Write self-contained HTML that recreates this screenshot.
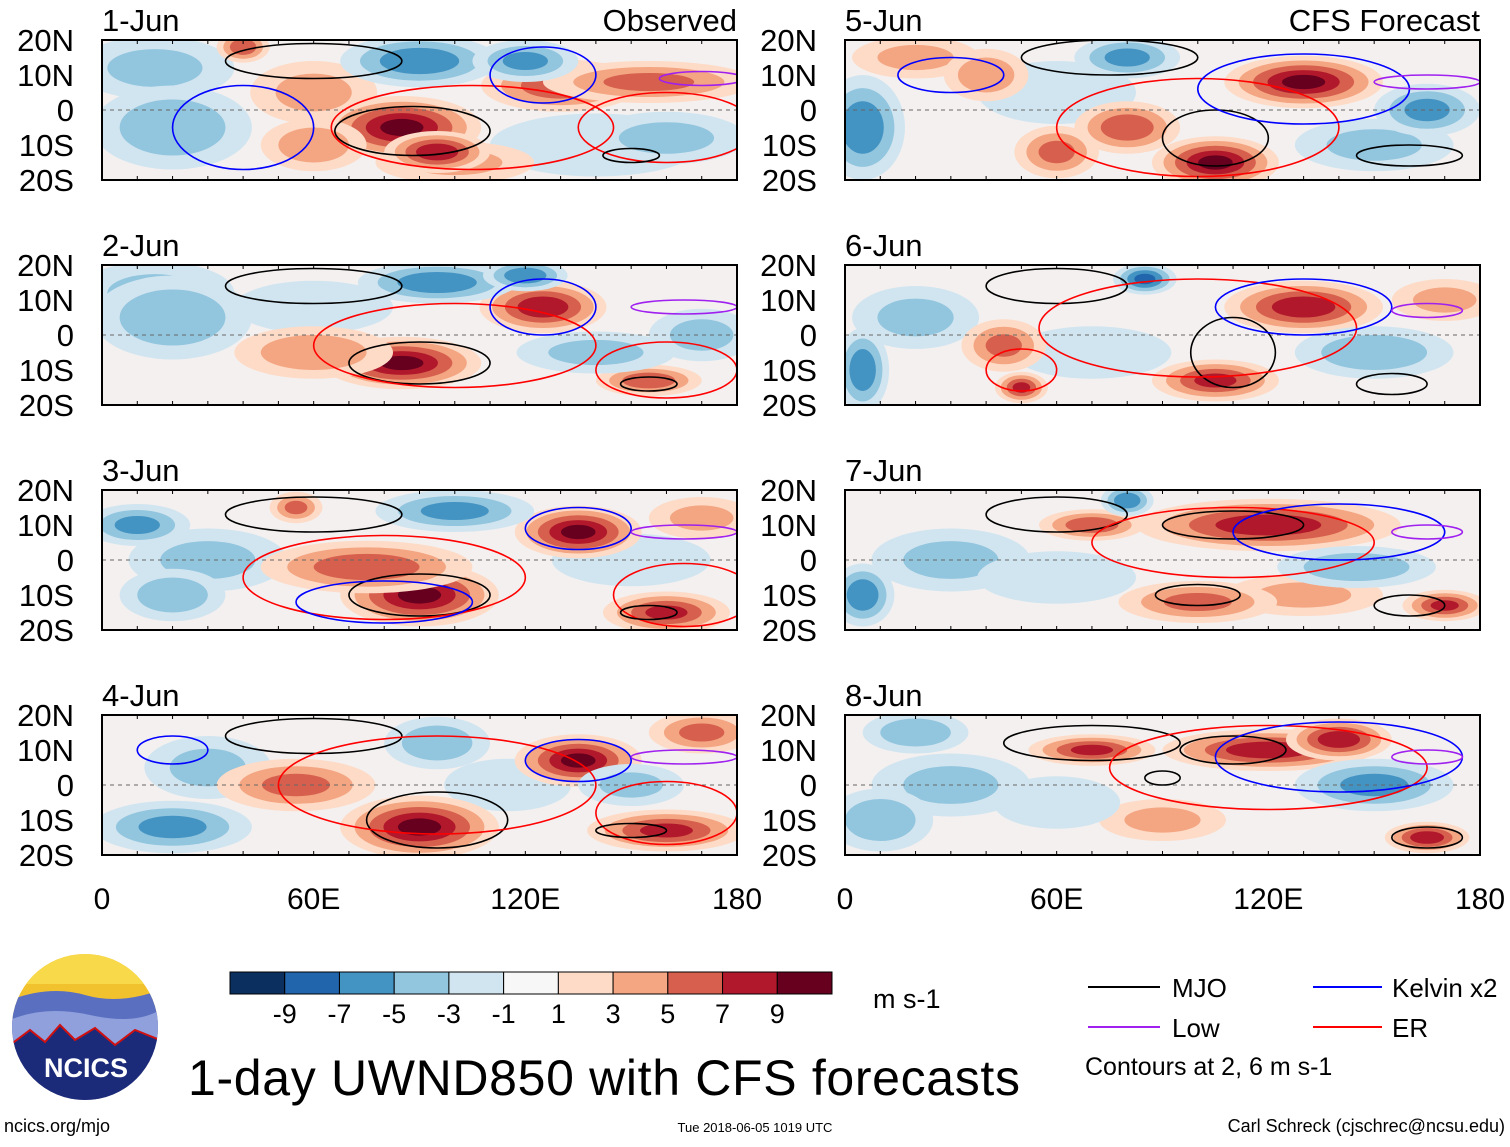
<!DOCTYPE html>
<html><head><meta charset="utf-8"><style>
body{margin:0;background:#fff;}
svg text{font-family:"Liberation Sans",sans-serif;}
</style></head><body>
<svg id="fig" width="1510" height="1142" xmlns="http://www.w3.org/2000/svg">
<g id="panels"></g>
<g id="cbar"></g>
<text x="873" y="1008" font-size="27">m s-1</text>
<g>
<line x1="1088" y1="987" x2="1160" y2="987" stroke="#000" stroke-width="2"/>
<text x="1172" y="997" font-size="26">MJO</text>
<line x1="1313" y1="987" x2="1382" y2="987" stroke="#0000ff" stroke-width="2"/>
<text x="1392" y="997" font-size="26">Kelvin x2</text>
<line x1="1088" y1="1027" x2="1160" y2="1027" stroke="#a020f0" stroke-width="2"/>
<text x="1172" y="1037" font-size="26">Low</text>
<line x1="1313" y1="1027" x2="1382" y2="1027" stroke="#ff0000" stroke-width="2"/>
<text x="1392" y="1037" font-size="26">ER</text>
<text x="1085" y="1075" font-size="25">Contours at 2, 6 m s-1</text>
</g>
<g>
<clipPath id="lc"><circle cx="85" cy="1027" r="73"/></clipPath>
<g clip-path="url(#lc)">
<rect x="10" y="954" width="150" height="150" fill="#f2c12e"/>
<rect x="10" y="954" width="150" height="30" fill="#f7d94a"/>
<path d="M10 1000 Q50 985 85 995 T160 990 L160 1104 L10 1104Z" fill="#5a6fc0"/>
<path d="M10 1020 Q45 1005 90 1015 T160 1010 L160 1104 L10 1104Z" fill="#8fa0dd"/>
<path d="M10 1045 L30 1030 L45 1042 L60 1025 L75 1040 L95 1028 L115 1045 L135 1030 L160 1040 L160 1104 L10 1104Z" fill="#1c2a7a" stroke="#d01010" stroke-width="2"/>
</g>
<text x="86" y="1077" font-size="27" font-weight="bold" fill="#fff" text-anchor="middle">NCICS</text>
</g>
<text x="188" y="1095" font-size="50" textLength="832">1-day UWND850 with CFS forecasts</text>
<text x="4" y="1132" font-size="18">ncics.org/mjo</text>
<text x="755" y="1132" font-size="13" text-anchor="middle">Tue 2018-06-05 1019 UTC</text>
<text x="1505" y="1132" font-size="18" text-anchor="end">Carl Schreck (cjschrec@ncsu.edu)</text>
</svg>
<script>
const NS="http://www.w3.org/2000/svg";
const panelTitles=["1-Jun","2-Jun","3-Jun","4-Jun","5-Jun","6-Jun","7-Jun","8-Jun"];
const latTicks=[20,10,0,-10,-20];
const latLabels=["20N","10N","0","10S","20S"];
const lonTicks=[0,60,120,180];
const lonLabels=["0","60E","120E","180"];
const cbLevels=[-9,-7,-5,-3,-1,1,3,5,7,9];
const cbColors=["#0b2f5e","#2166ac","#4393c3","#92c5de","#d1e5f0","#f7f7f7","#fddbc7","#f4a582","#d6604d","#b2182b","#67001f"];
// anomaly blobs per panel: [lon, lat, value, lonRadius, latRadius]
const blobs=[
[[15,12,-3,15,6],[60,5,3,12,6],[140,-10,-2,20,6],[100,-15,3,15,4],[85,-5,9,15,6],[95,-12,8,10,4],[130,7,6,15,5],[155,8,5,20,4],[90,14,-6,15,5],[120,14,-5,10,4],[20,-5,-4,15,8],[40,18,6,5,3],[60,-10,4,10,5],[160,-8,-3,15,5]],
[[15,12,-3,15,6],[60,8,-2,15,5],[170,0,-3,10,5],[85,-8,9,15,5],[125,8,8,12,5],[155,-13,6,10,3],[95,15,-6,15,4],[120,17,-6,8,3],[20,5,-4,15,8],[60,-5,4,15,5],[140,-5,-3,15,4]],
[[30,0,-3,15,6],[150,0,-2,15,5],[170,12,3,10,4],[90,-10,9,15,6],[75,-2,6,20,5],[135,8,9,12,5],[160,-15,7,12,4],[100,14,-5,15,4],[10,10,-5,10,4],[55,15,5,5,3],[20,-10,-4,10,5]],
[[30,5,-3,12,6],[115,0,-2,12,5],[90,-12,9,15,6],[135,7,9,12,5],[160,-13,7,15,4],[55,0,5,15,5],[20,-12,-5,15,5],[95,12,-4,10,5],[170,15,5,10,4],[150,0,-3,10,4]],
[[20,15,3,12,4],[150,-10,-3,15,5],[60,5,-2,15,6],[130,8,9,15,5],[105,-15,9,12,5],[80,-5,6,10,5],[5,-5,-6,8,10],[80,15,-5,10,4],[165,0,-5,10,5],[40,10,4,8,5],[60,-12,5,8,5]],
[[20,5,-3,12,6],[70,-5,-2,15,5],[170,10,3,10,4],[130,8,8,15,5],[105,-13,7,12,4],[50,-15,7,5,3],[5,-10,-6,5,8],[85,16,-7,6,3],[150,-5,-4,15,5],[45,-3,5,8,5]],
[[30,0,-3,15,6],[60,-5,-2,15,5],[130,-10,3,15,4],[120,10,8,25,5],[70,10,6,10,3],[170,-13,7,8,3],[5,-10,-6,6,6],[80,17,-6,5,3],[145,-2,-4,15,4],[100,-12,5,15,4]],
[[30,0,-3,15,6],[90,-10,3,12,4],[60,-5,-2,12,5],[120,10,8,20,4],[70,10,7,12,3],[140,13,8,10,4],[165,-15,8,8,3],[150,0,-5,15,5],[10,-10,-4,10,6],[20,15,-4,10,4]]
];
// contours per panel: [lon, lat, lonRadius, latRadius, type]  m=MJO k=Kelvin r=ER l=Low
const contours=[
[[60,14,25,5,"m"],[88,-6,22,7,"m"],[105,-5,40,12,"r"],[160,-5,25,10,"r"],[125,10,15,8,"k"],[40,-5,20,12,"k"],[170,9,12,2,"l"],[150,-13,8,2,"m"]],
[[60,14,25,5,"m"],[90,-8,20,6,"m"],[100,-3,40,12,"r"],[160,-10,20,8,"r"],[125,8,15,8,"k"],[165,8,15,2,"l"],[155,-14,8,2,"m"]],
[[60,13,25,5,"m"],[90,-10,20,6,"m"],[80,-5,40,12,"r"],[165,-10,20,9,"r"],[135,9,15,6,"k"],[80,-12,25,6,"k"],[165,8,15,2,"l"],[155,-15,8,2,"m"]],
[[60,14,25,5,"m"],[95,-10,20,8,"m"],[95,0,45,14,"r"],[160,-8,20,9,"r"],[135,7,15,6,"k"],[20,10,10,4,"k"],[165,8,15,2,"l"],[150,-13,10,2,"m"]],
[[75,15,25,5,"m"],[105,-8,15,8,"m"],[100,-5,40,14,"r"],[130,6,30,10,"k"],[165,8,15,2,"l"],[160,-13,15,3,"m"],[30,10,15,5,"k"]],
[[60,14,20,5,"m"],[110,-5,12,10,"m"],[100,2,45,14,"r"],[130,8,25,8,"k"],[165,7,10,2,"l"],[155,-14,10,3,"m"],[50,-10,10,6,"r"]],
[[60,13,20,5,"m"],[110,10,20,4,"m"],[100,-10,12,3,"m"],[110,5,40,10,"r"],[140,8,30,8,"k"],[160,-13,10,3,"m"],[165,8,10,2,"l"]],
[[70,12,25,5,"m"],[110,10,15,4,"m"],[90,2,5,2,"m"],[120,5,45,12,"r"],[140,8,35,10,"k"],[165,-15,10,3,"m"],[165,8,10,2,"l"]]
];
const cmap={m:"#000",k:"#0000ff",r:"#ff0000",l:"#a020f0"};
function colorFor(v){let i=0;while(i<cbLevels.length&&v>cbLevels[i])i++;return cbColors[i];}
function mk(tag,attrs,parent){const e=document.createElementNS(NS,tag);for(const k in attrs)e.setAttribute(k,attrs[k]);parent.appendChild(e);return e;}
const PW=635,PH=140,GROW=1.5;
const panelsG=document.getElementById("panels");
for(let p=0;p<8;p++){
  const col=p<4?0:1,row=p%4;
  const x0=col?845:102,y0=40+row*225;
  const xs=lon=>x0+lon/180*PW;
  const ys=lat=>y0+(20-lat)/40*PH;
  const g=mk("g",{},panelsG);
  
  
  const cid="clip"+p;
  const cp=mk("clipPath",{id:cid},g);mk("rect",{x:x0,y:y0,width:PW,height:PH},cp);
  const inner=mk("g",{"clip-path":"url(#"+cid+")"},g);
  mk("rect",{x:x0,y:y0,width:PW,height:PH,fill:"#f4f0ef"},inner);
  blobs[p].forEach(b=>{
    const [lon,lat,v,rl,rt]=b;const n=Math.abs(v);const s=Math.sign(v);
    for(let k=1;k<=n;k+=2){
      const f=1-(k-1)/(n+2);
      const e=mk("ellipse",{cx:xs(lon),cy:ys(lat),rx:rl/180*PW*f*GROW,ry:rt/40*PH*f*GROW,fill:colorFor(s*(k+1))},inner);
      
      
    }
  });
  mk("line",{x1:x0,y1:ys(0),x2:x0+PW,y2:ys(0),stroke:"#666","stroke-dasharray":"4,4","stroke-width":1},inner);
  contours[p].forEach(c=>{
    const [lon,lat,rl,rt,t]=c;
    const e=mk("ellipse",{cx:xs(lon),cy:ys(lat),rx:rl/180*PW,ry:rt/40*PH,fill:"none",stroke:cmap[t],"stroke-width":1.6},inner);
    
    
  });
  mk("rect",{x:x0,y:y0,width:PW,height:PH,fill:"none",stroke:"#000","stroke-width":2},g);
  for(let lon=0;lon<=180;lon+=10){
    mk("line",{x1:xs(lon),y1:y0,x2:xs(lon),y2:y0+4,stroke:"#000"},g);
    mk("line",{x1:xs(lon),y1:y0+PH,x2:xs(lon),y2:y0+PH-4,stroke:"#000"},g);
  }
  latTicks.forEach((lat,i)=>{
    const t=mk("text",{x:x0-28,y:ys(lat)+11,"font-size":31,"text-anchor":"end"},g);
    t.textContent=latLabels[i];
    
    
  });
  const tt=mk("text",{x:x0,y:y0-9,"font-size":31},g);tt.textContent=panelTitles[p];
  
  
  if(row===0){
    const st=mk("text",{x:x0+PW,y:y0-9,"font-size":31,"text-anchor":"end"},g);
    st.textContent=col?"CFS Forecast":"Observed";
    
    
  }
  if(row===3){
    lonTicks.forEach((lon,i)=>{
      const t=mk("text",{x:xs(lon),y:y0+PH+54,"font-size":30,"text-anchor":"middle"},g);
      t.textContent=lonLabels[i];
      
      
    });
  }
}
const cb=document.getElementById("cbar");
const cbx=230,cbw=602/11;
cbColors.forEach((c,i)=>{
  const r=mk("rect",{x:cbx+i*cbw,y:972,width:cbw,height:22,fill:c,stroke:"#000","stroke-width":1},cb);
  
  
});
cbLevels.forEach((v,i)=>{
  const t=mk("text",{x:cbx+(i+1)*cbw,y:1023,"font-size":27,"text-anchor":"middle"},cb);
  t.textContent=String(v);
  
  
});
</script>
</body></html>
